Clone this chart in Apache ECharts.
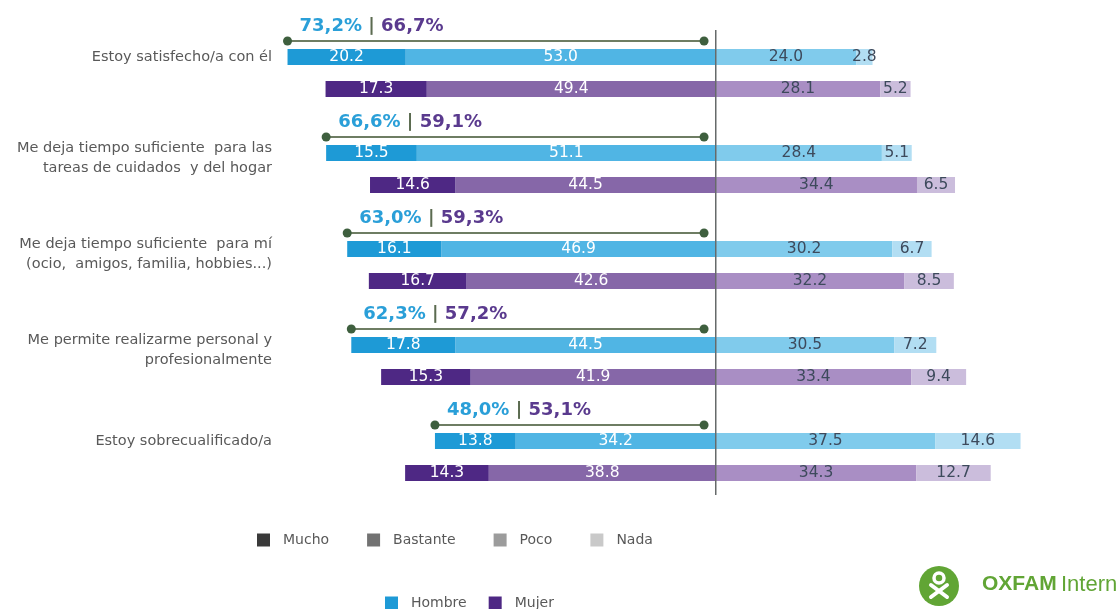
<!DOCTYPE html>
<html>
<head>
<meta charset="utf-8">
<script src="https://cdn.jsdelivr.net/npm/echarts@6/dist/echarts.min.js"></script>
<style>
  html, body { margin: 0; padding: 0; background: #ffffff; }
  #chart { width: 1116px; height: 609px; }
</style>
</head>
<body>
<div id="chart"></div>
<script>
// Statements about the current job, one block per statement
const categories = [
  'Estoy satisfecho/a con él',
  'Me deja tiempo suficiente  para las\ntareas de cuidados  y del hogar',
  'Me deja tiempo suficiente  para mí\n(ocio,  amigos, familia, hobbies...)',
  'Me permite realizarme personal y\nprofesionalmente',
  'Estoy sobrecualificado/a'
];

// Answers in %, men
const hombreMucho    = [20.2, 15.5, 16.1, 17.8, 13.8];
const hombreBastante = [53.0, 51.1, 46.9, 44.5, 34.2];
const hombrePoco     = [24.0, 28.4, 30.2, 30.5, 37.5];
const hombreNada     = [2.8, 5.1, 6.7, 7.2, 14.6];

// Answers in %, women
const mujerMucho    = [17.3, 14.6, 16.7, 15.3, 14.3];
const mujerBastante = [49.4, 44.5, 42.6, 41.9, 38.8];
const mujerPoco     = [28.1, 34.4, 32.2, 33.4, 34.3];
const mujerNada     = [5.2, 6.5, 8.5, 9.4, 12.7];

const answerNames = ['Mucho', 'Bastante', 'Poco', 'Nada'];
const sexNames = ['Hombre', 'Mujer'];

// Right end of the agreement bracket drawn above each block
const bracketEnd = -2;

const colors = {
  Hombre: { Mucho: '#1e9ad6', Bastante: '#50b5e4', Poco: '#80cbec', Nada: '#b2def3' },
  Mujer:  { Mucho: '#4e2884', Bastante: '#8667a8', Poco: '#a98ec4', Nada: '#cbbddc' }
};
const legendGrey = { Mucho: '#3a3a3a', Bastante: '#727272', Poco: '#9c9c9c', Nada: '#c9c9c9' };

// Three rows per statement: bracket row, men, women
const slots = [];
categories.forEach((c, i) => { slots.push('a' + i, 'h' + i, 'm' + i); });

const dataBy = {
  Hombre: { Mucho: hombreMucho, Bastante: hombreBastante, Poco: hombrePoco, Nada: hombreNada },
  Mujer:  { Mucho: mujerMucho, Bastante: mujerBastante, Poco: mujerPoco, Nada: mujerNada }
};

function barData(answer, sign) {
  const out = [];
  categories.forEach((c, i) => {
    out.push('-');
    sexNames.forEach(sex => {
      out.push({
        value: sign * dataBy[sex][answer][i],
        itemStyle: { color: colors[sex][answer] }
      });
    });
  });
  return out;
}

const fmt = v => v.toFixed(1).replace('.', ',') + '%';

function barSeries(answer, sign) {
  return {
    name: answer,
    type: 'bar',
    stack: 'resp',
    barWidth: 16,
    itemStyle: { color: legendGrey[answer] },
    label: {
      show: true,
      position: 'inside',
      fontFamily: 'DejaVu Sans',
      fontSize: 15.5,
      color: sign < 0 ? '#ffffff' : '#3d4a5c',
      formatter: p => Math.abs(p.value).toFixed(1)
    },
    emphasis: { disabled: true },
    data: barData(answer, sign)
  };
}

const bracketData = categories.map((c, i) => [
  hombreMucho[i] + hombreBastante[i],
  mujerMucho[i] + mujerBastante[i],
  'a' + i
]);

// Statement label beside the men's bar; two-line ones get a small spacer line on top
function statementLabel(v) {
  if (v[0] !== 'h') return '';
  const text = categories[+v.slice(1)];
  return text.indexOf('\n') >= 0 ? '{sp| }\n' + text : text;
}

const chart = echarts.init(document.getElementById('chart'), null, { renderer: 'canvas' });

chart.setOption({
  animation: false,
  backgroundColor: '#ffffff',
  grid: { left: 277, right: 78.5, top: 9, height: 480 },
  xAxis: {
    type: 'value', min: -75, max: 55, show: false
  },
  yAxis: {
    type: 'category',
    inverse: true,
    data: slots,
    axisLine: { show: false, onZero: false },
    axisTick: { show: false },
    splitLine: { show: false },
    axisLabel: {
      margin: 5,
      fontFamily: 'DejaVu Sans',
      fontSize: 14.5,
      lineHeight: 20,
      color: '#595959',
      align: 'right',
      formatter: statementLabel,
      rich: {
        sp: { fontSize: 2, lineHeight: 10 }
      }
    }
  },
  legend: [
    {
      left: 252, top: 528,
      data: answerNames.map(n => ({ name: n, icon: 'rect' })),
      itemWidth: 13, itemHeight: 13, itemGap: 38,
      selectedMode: false,
      textStyle: { fontFamily: 'DejaVu Sans', fontSize: 14, color: '#595959', padding: [0, 0, 0, 8] }
    },
    {
      left: 380, top: 591,
      data: sexNames.map(n => ({ name: n, icon: 'rect' })),
      itemWidth: 13, itemHeight: 13, itemGap: 22,
      selectedMode: false,
      textStyle: { fontFamily: 'DejaVu Sans', fontSize: 14, color: '#595959', padding: [0, 0, 0, 8] }
    }
  ],
  series: [
    barSeries('Bastante', -1),
    barSeries('Mucho', -1),
    barSeries('Poco', 1),
    barSeries('Nada', 1),
    { name: 'Hombre', type: 'scatter', data: [], itemStyle: { color: '#1e9ad6', opacity: 1 } },
    { name: 'Mujer', type: 'scatter', data: [], itemStyle: { color: '#4e2884', opacity: 1 } },
    {
      // bracket with men's and women's "mucho + bastante" share
      type: 'custom',
      clip: false,
      z: 5,
      encode: { x: 0, y: 2 },
      data: bracketData,
      renderItem: (params, api) => {
        const row = api.value(2);
        const band = api.size([0, 1])[1];
        const l = api.coord([-api.value(0), row]);
        const r = api.coord([bracketEnd, row]);
        const ly = l[1] + band / 2;
        return {
          type: 'group',
          children: [
            { type: 'line', shape: { x1: l[0], y1: ly, x2: r[0], y2: ly },
              style: { stroke: '#6e7d63', lineWidth: 2 } },
            { type: 'circle', shape: { cx: l[0], cy: ly, r: 4.5 }, style: { fill: '#3e5f3e' } },
            { type: 'circle', shape: { cx: r[0], cy: ly, r: 4.5 }, style: { fill: '#3e5f3e' } },
            { type: 'text', x: l[0] + 12, y: l[1] + 1,
              style: {
                text: '{h|' + fmt(api.value(0)) + '} {s||} {m|' + fmt(api.value(1)) + '}',
                verticalAlign: 'middle',
                align: 'left',
                fontFamily: 'DejaVu Sans',
                fontSize: 18,
                fontWeight: 'bold',
                rich: {
                  h: { fontFamily: 'DejaVu Sans', fontSize: 18, fontWeight: 'bold', fill: '#2a9fd8' },
                  s: { fontFamily: 'DejaVu Sans', fontSize: 18, fontWeight: 'bold', fill: '#5b6b50' },
                  m: { fontFamily: 'DejaVu Sans', fontSize: 18, fontWeight: 'bold', fill: '#5a3a8e' }
                }
              } }
          ]
        };
      }
    },
    {
      // centre line at zero
      type: 'custom',
      clip: false,
      z: 6,
      data: [[0]],
      renderItem: (params, api) => {
        const band = api.size([0, 1])[1];
        const top = api.coord([0, 0]);
        const bottom = api.coord([0, slots.length - 1]);
        return {
          type: 'line',
          shape: { x1: top[0], y1: top[1] + 5, x2: bottom[0], y2: bottom[1] + band / 2 + 6 },
          style: { stroke: '#666a6a', lineWidth: 1.5 }
        };
      }
    }
  ],
  graphic: [
    {
      type: 'group', left: 919, top: 566,
      children: [
        { type: 'circle', shape: { cx: 21, cy: 20, r: 20 }, style: { fill: '#61a535' } },
        { type: 'circle', shape: { cx: 21, cy: 12, r: 5 }, style: { fill: 'none', stroke: '#ffffff', lineWidth: 3.5 } },
        { type: 'line', shape: { x1: 13, y1: 19, x2: 29, y2: 31 }, style: { stroke: '#ffffff', lineWidth: 4, lineCap: 'round' } },
        { type: 'line', shape: { x1: 29, y1: 19, x2: 13, y2: 31 }, style: { stroke: '#ffffff', lineWidth: 4, lineCap: 'round' } }
      ]
    },
    {
      type: 'text', left: 982, top: 574,
      style: { text: 'OXFAM', fontFamily: 'Liberation Sans', fontWeight: 'bold', fontSize: 21, fill: '#61a535' }
    },
    {
      type: 'text', left: 1061, top: 574,
      style: { text: 'International', fontFamily: 'Liberation Sans', fontSize: 22, fill: '#61a535' }
    }
  ]
});
</script>
</body>
</html>
